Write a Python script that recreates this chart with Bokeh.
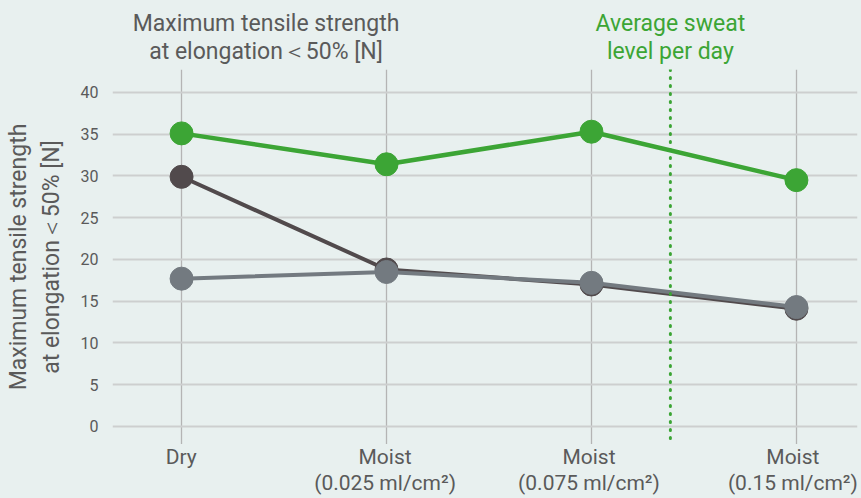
from bokeh.plotting import figure
from bokeh.models import Range1d, FixedTicker, Span
from bokeh.layouts import column
from bokeh.core.properties import value
from bokeh.embed import file_html
from bokeh.resources import INLINE

cat_line1 = ["Dry", "Moist", "Moist", "Moist"]
cat_line2 = ["", "(0.025 ml/cm²)", "(0.075 ml/cm²)", "(0.15 ml/cm²)"]
x_pos = [0, 1, 2, 3]
green_vals = [35.1, 31.4, 35.3, 29.5]
dark_vals = [29.9, 18.8, 17.0, 14.1]
gray_vals = [17.7, 18.5, 17.2, 14.3]
y_ticks = [0, 5, 10, 15, 20, 25, 30, 35, 40]
sweat_x = 2.385
title_lines = ["Maximum tensile strength", "at elongation\uff1c50% [N]"]
sweat_lines = ["Average sweat", "level per day"]
y_label = "Maximum tensile strength\nat elongation\uff1c50% [N]"

BG = "#e8f0ef"
TXT = "#5a5a5a"
GREEN = "#3ca535"
DARK = "#514a4c"
GRAY = "#737a80"
FONT = "Roboto"
W = 861
LEFT = 112

xr = Range1d(-0.337, 3.298)

def base(h, yr, xrange=xr, right=4):
    f = figure(width=W, height=h, output_backend="svg", toolbar_location=None, title=None,
               x_range=xrange, y_range=yr, min_border_left=LEFT, min_border_top=0,
               min_border_right=right, min_border_bottom=0)
    f.background_fill_color = None
    f.border_fill_color = BG
    f.outline_line_color = None
    return f

# header
hdr = base(69, Range1d(0, 69))
hdr.axis.visible = False
hdr.grid.visible = False
hdr.text(x=[0.412, 0.412], y=[46, 18], text=title_lines, text_align="center",
         text_baseline="middle", text_font=value(FONT), text_font_size="23px", text_color=TXT)
hdr.text(x=[sweat_x, sweat_x], y=[46, 18], text=sweat_lines, text_align="center",
         text_baseline="middle", text_font=value(FONT), text_font_size="23px", text_color=GREEN)

# main
p = base(375, Range1d(-2.16, 42.75))
p.xaxis.visible = False
p.xaxis.ticker = FixedTicker(ticks=x_pos)
p.yaxis.ticker = FixedTicker(ticks=y_ticks)
p.yaxis.axis_line_color = None
p.yaxis.major_tick_line_color = None
p.yaxis.minor_tick_line_color = None
p.yaxis.major_label_text_color = TXT
p.yaxis.major_label_text_font = FONT
p.yaxis.major_label_text_font_size = "16px"
p.yaxis.major_label_standoff = 8
p.yaxis.axis_label = y_label
p.yaxis.axis_label_text_font = FONT
p.yaxis.axis_label_text_font_size = "23px"
p.yaxis.axis_label_text_font_style = "normal"
p.yaxis.axis_label_text_color = TXT
p.yaxis.axis_label_standoff = 13

p.xgrid.grid_line_color = "#b4b4b4"
p.xgrid.grid_line_width = 1.3
p.ygrid.grid_line_color = "#cdcfcf"
p.ygrid.grid_line_width = 2

p.add_layout(Span(location=sweat_x, dimension="height", line_color=GREEN,
                  line_width=3, line_dash="1 7", line_cap="round"))

p.line(x_pos, dark_vals, line_color=DARK, line_width=4)
p.scatter(x_pos, dark_vals, size=23, color=DARK)
p.line(x_pos, gray_vals, line_color=GRAY, line_width=4)
p.scatter(x_pos, gray_vals, size=23, color=GRAY)
p.line(x_pos, green_vals, line_color=GREEN, line_width=4.5)
p.scatter(x_pos, green_vals, size=23, color=GREEN)

# footer with category labels (frame runs to the right edge so labels are not clipped)
ftr = base(54, Range1d(0, 54), xrange=Range1d(-0.337, 3.317), right=0)
ftr.axis.visible = False
ftr.grid.visible = False
ftr.text(x=x_pos, y=[42] * 4, text=cat_line1, text_align="center", text_baseline="middle",
         text_font=value(FONT), text_font_size="21px", text_color=TXT)
ftr.text(x=x_pos, y=[16] * 4, text=cat_line2, text_align="center", text_baseline="middle",
         text_font=value(FONT), text_font_size="21px", text_color=TXT)

layout = column(hdr, p, ftr, spacing=0, styles={"background-color": BG})
open("out.html", "w").write(file_html(layout, INLINE))
